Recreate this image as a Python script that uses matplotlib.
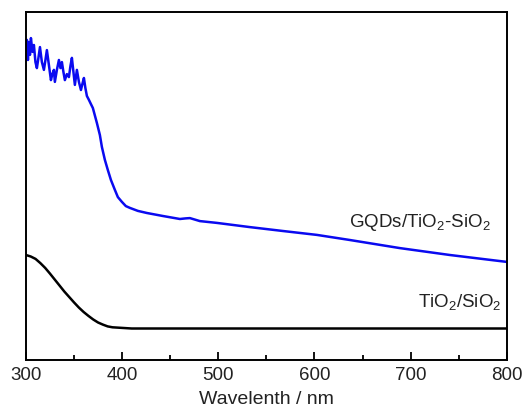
import matplotlib
matplotlib.use("Agg")
import matplotlib.pyplot as plt
from matplotlib.ticker import MultipleLocator

plt.rcParams['font.family'] = ['Liberation Sans', 'DejaVu Sans']
plt.rcParams['mathtext.fontset'] = 'custom'
plt.rcParams['mathtext.rm'] = 'Liberation Sans'

# UV-vis absorbance (a.u.)
wl_gqd = [300.0, 301.0, 302.1, 303.1, 304.2, 305.2, 306.8, 308.3, 309.9, 311.4,
          313.0, 314.6, 316.6, 318.7, 320.3, 321.8, 323.9, 326.0, 327.5, 329.1,
          330.1, 332.2, 334.3, 335.9, 337.4, 339.0, 340.5, 342.6, 344.7, 346.3,
          347.8, 349.4, 350.9, 353.0, 355.1, 357.2, 358.7, 360.3, 361.8, 363.4,
          365.5, 367.6, 369.6, 373.8, 376.9, 379.0, 382.1, 385.2, 388.4, 392.5,
          395.6, 399.8, 403.9, 408.1, 416.4, 425.8, 442.4, 460.1, 466.0, 470.5,
          480.9, 498.5, 532.8, 567.2, 602.5, 636.8, 688.8, 740.8, 800.0]
abs_gqd = [1.033, 1.067, 1.0, 1.06, 1.017, 1.073, 1.027, 1.05, 0.993, 0.973,
           1.007, 1.043, 0.993, 0.967, 1.0, 1.033, 0.983, 0.933, 0.953, 0.967,
           0.927, 0.967, 1.0, 0.973, 0.993, 0.96, 0.933, 0.953, 0.943, 0.98,
           1.007, 0.96, 0.917, 0.967, 0.927, 0.9, 0.92, 0.94, 0.907, 0.88,
           0.867, 0.853, 0.84, 0.79, 0.75, 0.71, 0.667, 0.633, 0.6, 0.567,
           0.543, 0.527, 0.513, 0.507, 0.497, 0.49, 0.48, 0.47, 0.472, 0.473,
           0.463, 0.457, 0.443, 0.43, 0.417, 0.40, 0.373, 0.35, 0.327]

wl_ts = [300, 305, 310, 315, 320, 325, 330, 335, 340, 345, 350, 355, 360, 365,
         370, 375, 380, 385, 390, 400, 410, 500, 600, 700, 800]
abs_ts = [0.35, 0.345, 0.337, 0.323, 0.307, 0.288, 0.268, 0.248, 0.228, 0.21,
          0.192, 0.175, 0.16, 0.147, 0.135, 0.125, 0.118, 0.112, 0.109, 0.107,
          0.105, 0.105, 0.105, 0.105, 0.105]

fig = plt.figure(figsize=(5.29, 4.09), dpi=100)
ax = fig.add_axes([0.049, 0.1198, 0.909, 0.8509])

ax.plot(wl_gqd, abs_gqd, color='#0a0af0', lw=1.8)
ax.plot(wl_ts, abs_ts, color='black', lw=1.8)

ax.text(783, 0.443, r'GQDs/TiO$_2$-SiO$_2$', ha='right', va='baseline',
        fontsize=13.5, color='#222222')
ax.text(795, 0.173, r'TiO$_2$/SiO$_2$', ha='right', va='baseline',
        fontsize=13.5, color='#222222')

ax.set_xlim(300, 800)
ax.set_ylim(0, 1.16)
ax.xaxis.set_major_locator(MultipleLocator(100))
ax.xaxis.set_minor_locator(MultipleLocator(50))
ax.tick_params(axis='x', which='major', direction='in', length=6, width=1.3,
               labelsize=13.5, pad=5, labelcolor='#222222')
ax.tick_params(axis='x', which='minor', direction='in', length=3.5, width=1.3)
ax.set_yticks([])
for s in ax.spines.values():
    s.set_linewidth(1.4)
ax.set_xlabel('Wavelenth / nm', fontsize=14, labelpad=5, color='#222222')

fig.savefig('out.png', dpi=100)
